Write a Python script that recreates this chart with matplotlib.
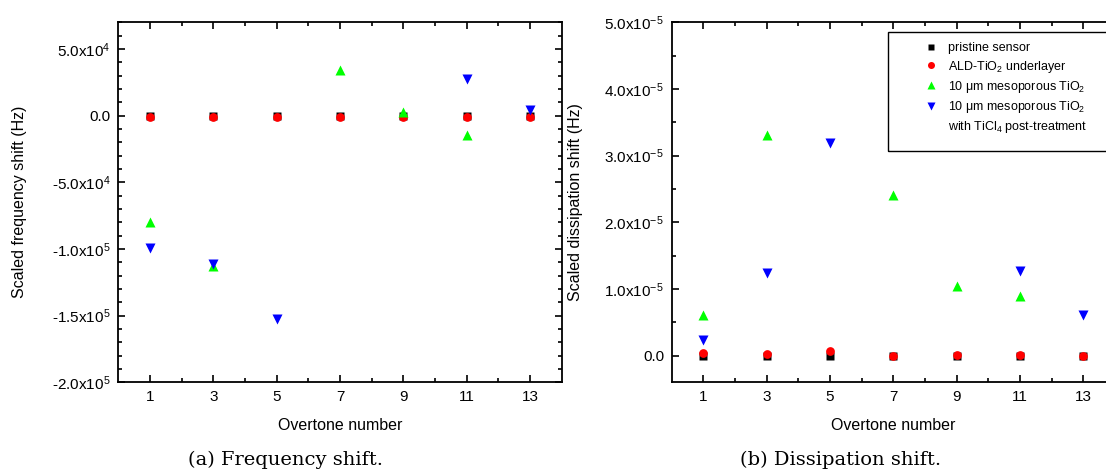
import numpy as np
import matplotlib
matplotlib.use("Agg")
import matplotlib.pyplot as plt
from matplotlib.ticker import FixedLocator, FixedFormatter, MultipleLocator
from matplotlib.lines import Line2D
from matplotlib.patches import Rectangle

plt.rcParams["font.family"] = ["Liberation Sans", "DejaVu Sans"]
plt.rcParams["mathtext.fontset"] = "custom"
plt.rcParams["mathtext.rm"] = "Liberation Sans"
plt.rcParams["mathtext.it"] = "Liberation Sans:italic"
plt.rcParams["mathtext.bf"] = "Liberation Sans:bold"

nan = np.nan

# Overtone numbers
overtones = [1, 3, 5, 7, 9, 11, 13]

# Scaled frequency shift (Hz)
freq_pristine = [0, 0, 0, 0, 0, 0, 0]
freq_ald = [-900, -900, -900, -900, -1100, -900, -900]
freq_meso = [-79500, -113000, nan, 34000, 2500, -14500, nan]
freq_meso_ticl4 = [-99000, -111000, -152500, nan, nan, 27500, 4500]

# Scaled dissipation shift (Hz)
diss_pristine = [-1e-7, -1e-7, -1e-7, 0, 0, 0, 0]
diss_ald = [4.5e-7, 2.5e-7, 7e-7, 0, 1e-7, 1.5e-7, -1e-7]
diss_meso = [6.05e-6, 3.31e-5, nan, 2.41e-5, 1.045e-5, 9.0e-6, nan]
diss_meso_ticl4 = [2.35e-6, 1.24e-5, 3.19e-5, nan, nan, 1.265e-5, 6.05e-6]

series_labels = ["pristine sensor",
                 "ALD-TiO$_2$ underlayer",
                 "10 \u03bcm mesoporous TiO$_2$",
                 "10 \u03bcm mesoporous TiO$_2$"]
extra_label = "with TiCl$_4$ post-treatment"

freq_ticks = [50000, 0, -50000, -100000, -150000, -200000]
freq_ticklabels = ["5.0x10$^{4}$", "0.0", "-5.0x10$^{4}$", "-1.0x10$^{5}$",
                   "-1.5x10$^{5}$", "-2.0x10$^{5}$"]
diss_ticks = [5e-5, 4e-5, 3e-5, 2e-5, 1e-5, 0]
diss_ticklabels = ["5.0x10$^{-5}$", "4.0x10$^{-5}$", "3.0x10$^{-5}$",
                   "2.0x10$^{-5}$", "1.0x10$^{-5}$", "0.0"]

captions = ["(a) Frequency shift.", "(b) Dissipation shift."]

styles = [dict(marker="s", color="black", ms=5.5),
          dict(marker="o", color="#ff0000", ms=6.3),
          dict(marker="^", color="#00ff00", ms=7.8),
          dict(marker="v", color="#0000ff", ms=7.8)]

W, H = 1106, 472
fig = plt.figure(figsize=(W / 100, H / 100), dpi=100)

def px_axes(x0, x1, y0, y1):
    return fig.add_axes([x0 / W, 1 - y1 / H, (x1 - x0) / W, (y1 - y0) / H])

ax1 = px_axes(118.3, 561.7, 22.3, 382.3)
ax2 = px_axes(671.7, 1115.1, 22.3, 382.3)

def style_axes(ax, ticks, labels, minor, ylim, ylabel):
    ax.set_xlim(0, 14)
    ax.set_ylim(*ylim)
    ax.xaxis.set_major_locator(FixedLocator(overtones))
    ax.xaxis.set_minor_locator(FixedLocator([2, 4, 6, 8, 10, 12]))
    ax.yaxis.set_major_locator(FixedLocator(ticks))
    ax.yaxis.set_major_formatter(FixedFormatter(labels))
    ax.yaxis.set_minor_locator(MultipleLocator(minor))
    ax.tick_params(which="both", direction="in", top=True, right=True,
                   width=1.2, labelsize=11, pad=5.5)
    ax.tick_params(which="major", length=5)
    ax.tick_params(which="minor", length=2.8)
    for s in ax.spines.values():
        s.set_linewidth(1.3)
    ax.set_xlabel("Overtone number", fontsize=11.5, va="center")
    ax.xaxis.set_label_coords(0.5, -(426 - 382.3) / 360.0)
    ax.set_ylabel(ylabel, fontsize=11.5, va="center")

style_axes(ax1, freq_ticks, freq_ticklabels, 10000, (-200000, 70000),
           "Scaled frequency shift (Hz)")
ax1.yaxis.set_label_coords((19.6 - 118.3) / 443.4, 0.5)
style_axes(ax2, diss_ticks, diss_ticklabels, 5e-6, (-4e-6, 5e-5),
           "Scaled dissipation shift (Hz)")
ax2.yaxis.set_label_coords((575.7 - 671.7) / 443.4, 0.5)

freq_series = [freq_pristine, freq_ald, freq_meso, freq_meso_ticl4]
diss_series = [diss_pristine, diss_ald, diss_meso, diss_meso_ticl4]
for ax, data in ((ax1, freq_series), (ax2, diss_series)):
    for vals, st, lab in zip(data, styles, series_labels):
        ax.plot(overtones, vals, linestyle="none", marker=st["marker"],
                color=st["color"], ms=st["ms"], mec="none", label=lab,
                clip_on=False)

# Legend on the dissipation panel with a separate frame
handles, labels = ax2.get_legend_handles_labels()
handles.append(Line2D([], [], linestyle="none", marker="none"))
labels.append(extra_label)
leg = ax2.legend(handles, labels, loc="upper left",
                 bbox_to_anchor=((923.5 - 671.7) / 443.4, (382.3 - 42.5) / 360.0),
                 frameon=False, fontsize=9, borderpad=0, borderaxespad=0,
                 handlelength=1.2, handletextpad=0.76, labelspacing=0.33,
                 markerscale=0.8)
frame = Rectangle(((888 - 671.7) / 443.4, (382.3 - 151) / 360.0),
                  0.6, (151 - 32) / 360.0, transform=ax2.transAxes,
                  fill=False, edgecolor="black", linewidth=1.0, clip_on=False)
ax2.add_patch(frame)

for xc, cap in zip((285.7, 840.3), captions):
    fig.text(xc / W, 1 - 460 / H, cap, ha="center", va="center",
             fontsize=14, family=["DejaVu Serif"])

fig.savefig("out.png", dpi=100)
